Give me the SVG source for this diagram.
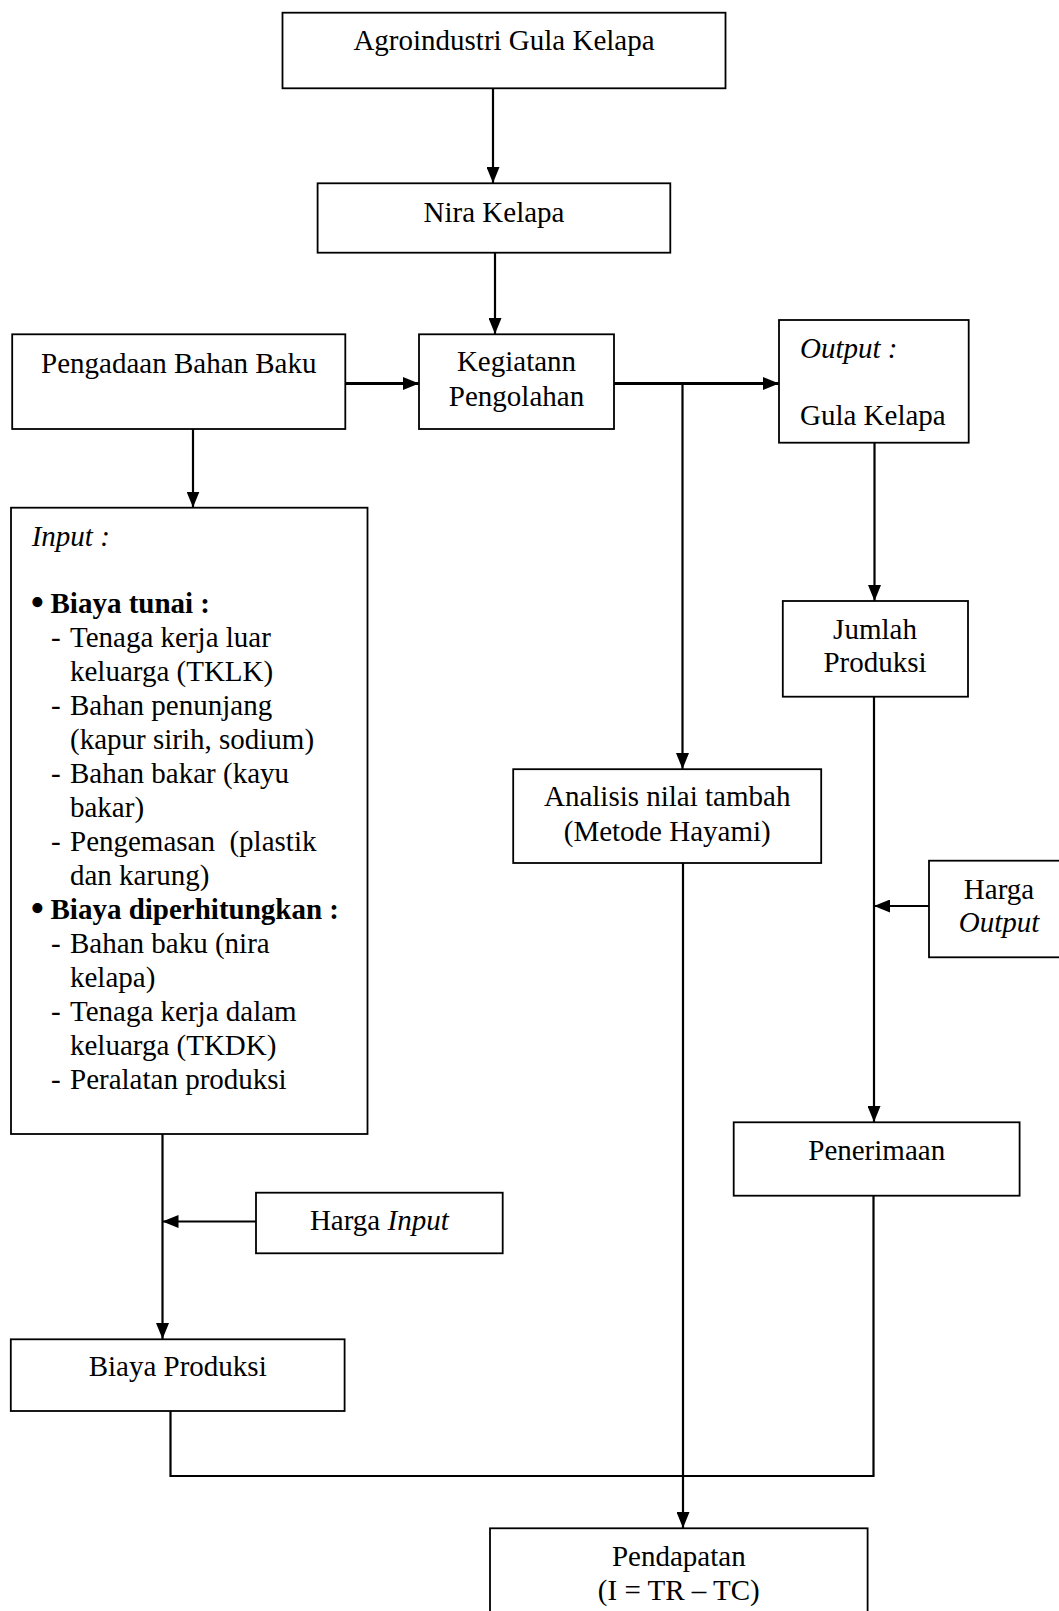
<svg xmlns="http://www.w3.org/2000/svg" width="1059" height="1611" viewBox="0 0 1059 1611">
<style>
text{font-family:"Liberation Serif","Times New Roman",serif;font-size:29px;fill:#000}
.c{text-anchor:middle}
.i{font-style:italic}
.b{font-weight:bold}
.bul{font-size:42px}
.box{fill:#fff;stroke:#000;stroke-width:1.8}
.ln{fill:none;stroke:#000;stroke-width:2.2}
.thk{stroke-width:2.8}
</style>
<defs>
<marker id="ah" markerUnits="userSpaceOnUse" markerWidth="16" markerHeight="13" refX="16" refY="6.5" orient="auto">
<path d="M0,0 L16,6.5 L0,13 z" fill="#000"/>
</marker>
</defs>
<rect width="1059" height="1611" fill="#fff"/>
<g id="connectors">
<line class="ln" x1="493" y1="88" x2="493" y2="183" marker-end="url(#ah)"/>
<line class="ln" x1="495" y1="253" x2="495" y2="334" marker-end="url(#ah)"/>
<line class="ln thk" x1="345" y1="383.5" x2="419" y2="383.5" marker-end="url(#ah)"/>
<line class="ln thk" x1="614" y1="383.5" x2="779" y2="383.5" marker-end="url(#ah)"/>
<line class="ln" x1="682.5" y1="383.5" x2="682.5" y2="769" marker-end="url(#ah)"/>
<line class="ln" x1="874.5" y1="443" x2="874.5" y2="601" marker-end="url(#ah)"/>
<line class="ln" x1="193" y1="429" x2="193" y2="507.5" marker-end="url(#ah)"/>
<line class="ln" x1="874" y1="696.5" x2="874" y2="1122" marker-end="url(#ah)"/>
<line class="ln" x1="929" y1="906" x2="874" y2="906" marker-end="url(#ah)"/>
<line class="ln" x1="162.5" y1="1134" x2="162.5" y2="1339" marker-end="url(#ah)"/>
<line class="ln" x1="256" y1="1221.5" x2="162.5" y2="1221.5" marker-end="url(#ah)"/>
<polyline class="ln" points="170.5,1411 170.5,1476 873.5,1476 873.5,1196"/>
<line class="ln" x1="683" y1="863" x2="683" y2="1528" marker-end="url(#ah)"/>
</g>
<g id="agroindustri">
<rect class="box" x="282.5" y="12.7" width="443" height="75.6"/>
<text class="c" x="504" y="50">Agroindustri Gula Kelapa</text>
</g>
<g id="nira">
<rect class="box" x="317.6" y="183.3" width="352.7" height="69.4"/>
<text class="c" x="494" y="221.7">Nira Kelapa</text>
</g>
<g id="pengadaan">
<rect class="box" x="12.2" y="334.3" width="333.1" height="94.7"/>
<text class="c" x="178.8" y="372.7">Pengadaan Bahan Baku</text>
</g>
<g id="kegiatan">
<rect class="box" x="419" y="334.3" width="195" height="94.7"/>
<text class="c" x="516.5" y="371">Kegiatann</text>
<text class="c" x="516.5" y="406">Pengolahan</text>
</g>
<g id="output">
<rect class="box" x="779" y="320" width="189.7" height="122.7"/>
<text class="i" x="800" y="358">Output :</text>
<text x="800" y="425">Gula Kelapa</text>
</g>
<g id="input">
<rect class="box" x="11" y="507.7" width="356.5" height="626.3"/>
<text class="i" x="31.7" y="546">Input :</text>
<text class="bul" x="30" y="615.5">•</text><text class="b" x="50.5" y="613.3">Biaya tunai :</text>
<text x="51" y="647.3">-</text><text x="70" y="647.3">Tenaga kerja luar</text>
<text x="70" y="681.3">keluarga (TKLK)</text>
<text x="51" y="715.3">-</text><text x="70" y="715.3">Bahan penunjang</text>
<text x="70" y="749.3">(kapur sirih, sodium)</text>
<text x="51" y="783.3">-</text><text x="70" y="783.3">Bahan bakar (kayu</text>
<text x="70" y="817.3">bakar)</text>
<text x="51" y="851.3">-</text><text x="70" y="851.3" xml:space="preserve">Pengemasan  (plastik</text>
<text x="70" y="885.3">dan karung)</text>
<text class="bul" x="30" y="921.5">•</text><text class="b" x="50.5" y="919.3">Biaya diperhitungkan :</text>
<text x="51" y="953.3">-</text><text x="70" y="953.3">Bahan baku (nira</text>
<text x="70" y="987.3">kelapa)</text>
<text x="51" y="1021.3">-</text><text x="70" y="1021.3">Tenaga kerja dalam</text>
<text x="70" y="1055.3">keluarga (TKDK)</text>
<text x="51" y="1089.3">-</text><text x="70" y="1089.3">Peralatan produksi</text>
</g>
<g id="jumlah">
<rect class="box" x="782.8" y="601" width="185.2" height="95.7"/>
<text class="c" x="875" y="638.8">Jumlah</text>
<text class="c" x="875" y="671.9">Produksi</text>
</g>
<g id="analisis">
<rect class="box" x="513.2" y="769.2" width="308" height="93.8"/>
<text class="c" x="667.2" y="806">Analisis nilai tambah</text>
<text class="c" x="667.2" y="840.6">(Metode Hayami)</text>
</g>
<g id="harga-output">
<rect class="box" x="929" y="860.7" width="139" height="96.6"/>
<text class="c" x="999" y="899">Harga</text>
<text class="c i" x="999" y="931.7">Output</text>
</g>
<g id="penerimaan">
<rect class="box" x="733.7" y="1122.3" width="285.9" height="73.4"/>
<text class="c" x="876.7" y="1160">Penerimaan</text>
</g>
<g id="harga-input">
<rect class="box" x="256" y="1192.7" width="246.7" height="60.6"/>
<text class="c" x="379.3" y="1230">Harga <tspan class="i">Input</tspan></text>
</g>
<g id="biaya-produksi">
<rect class="box" x="10.8" y="1339.3" width="333.8" height="71.7"/>
<text class="c" x="177.7" y="1376">Biaya Produksi</text>
</g>
<g id="pendapatan">
<rect class="box" x="490" y="1528.3" width="377.6" height="100"/>
<text class="c" x="678.8" y="1566">Pendapatan</text>
<text class="c" x="678.8" y="1600">(I = TR – TC)</text>
</g>
</svg>
